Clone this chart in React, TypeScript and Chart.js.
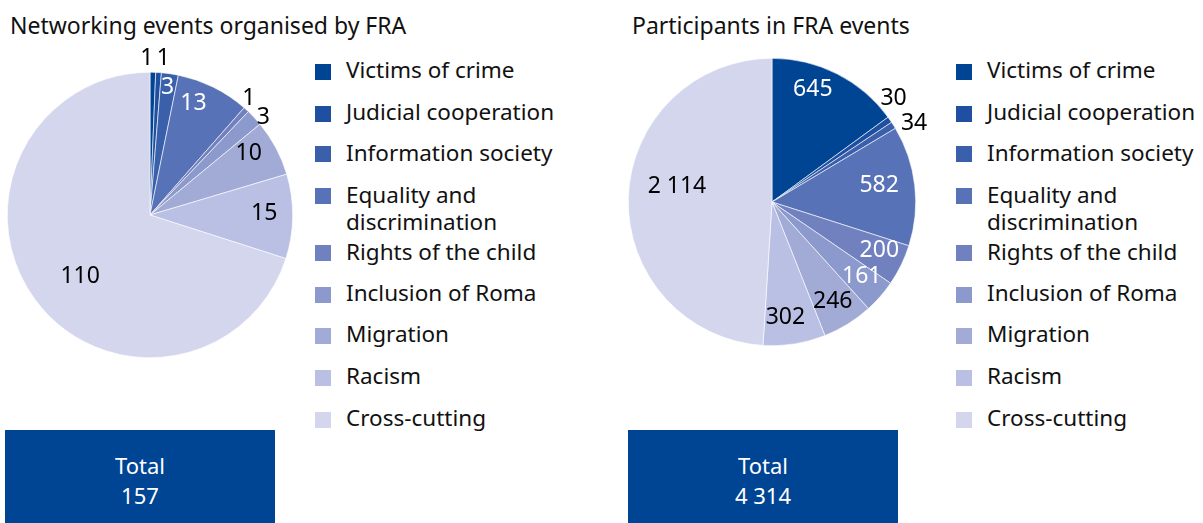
import React, { useEffect, useRef } from 'react';
import { Chart, registerables } from 'chart.js';

Chart.register(...registerables);

// ---------- data ----------
const categories = [
  'Victims of crime',
  'Judicial cooperation',
  'Information society',
  'Equality and discrimination',
  'Rights of the child',
  'Inclusion of Roma',
  'Migration',
  'Racism',
  'Cross-cutting',
];
const eventsValues = [1, 1, 3, 13, 1, 3, 10, 15, 110];
const participantsValues = [645, 30, 34, 582, 200, 161, 246, 302, 2114];
const eventsTitle = 'Networking events organised by FRA';
const participantsTitle = 'Participants in FRA events';
const totalLabel = 'Total';

// ---------- styles ----------
const sliceColors = [
  '#004494',
  '#1f4fa0',
  '#3a60ab',
  '#5872b7',
  '#7180bf',
  '#8c99cc',
  '#a1abd6',
  '#b9c0e3',
  '#d3d6ed',
];
const FONT = '"Noto Sans", "DejaVu Sans", sans-serif';

// label placement: radius factor, angle offset (deg) from slice middle, colour
const eventsLabelCfg = [
  { rf: 1.096, da: -2.35, c: '#000' },
  { rf: 1.1, da: 1.4, c: '#000' },
  { rf: 0.9, da: -0.2, c: '#fff' },
  { rf: 0.84, da: -5.1, c: '#fff' },
  { rf: 1.07, da: -2.1, c: '#000' },
  { rf: 1.05, da: 2.2, c: '#000' },
  { rf: 0.815, da: -3.8, c: '#000' },
  { rf: 0.8, da: -1.1, c: '#000' },
  { rf: 0.65, da: -5, c: '#000' },
];
const participantsLabelCfg = [
  { rf: 0.83, da: -6.9, c: '#fff' },
  { rf: 1.113, da: -5.6, c: '#000' },
  { rf: 1.13, da: 3.3, c: '#000' },
  { rf: 0.755, da: -2.3, c: '#fff' },
  { rf: 0.82, da: -1.7, c: '#fff' },
  { rf: 0.81, da: -1.6, c: '#fff' },
  { rf: 0.81, da: 0.4, c: '#000' },
  { rf: 0.81, da: 2.4, c: '#000' },
  { rf: 0.67, da: 7.35, c: '#000' },
];

const legendRowY = [69.5, 111.5, 152, 194, 251, 292.5, 333.5, 375.5, 417.5];

const fmt = (n: number) => String(n).replace(/\B(?=(\d{3})+(?!\d))/g, ' ');

const sliceLabelPlugin = {
  id: 'sliceLabels',
  afterDatasetsDraw(chart: any, _args: any, opts: any) {
    const ctx = chart.ctx;
    const meta = chart.getDatasetMeta(0);
    const data = chart.data.datasets[0].data as number[];
    ctx.save();
    ctx.font = `23px ${FONT}`;
    ctx.textAlign = 'center';
    ctx.textBaseline = 'middle';
    meta.data.forEach((arc: any, i: number) => {
      const p = arc.getProps(['x', 'y', 'startAngle', 'endAngle', 'outerRadius'], true);
      const cfg = opts.labels[i];
      const a = (p.startAngle + p.endAngle) / 2 + (cfg.da * Math.PI) / 180;
      const r = p.outerRadius * cfg.rf;
      ctx.fillStyle = cfg.c;
      ctx.fillText(fmt(data[i]), p.x + Math.cos(a) * r, p.y + Math.sin(a) * r);
    });
    ctx.restore();
  },
};

function PieCanvas(props: {
  values: number[];
  labelCfg: any[];
  left: number;
  top: number;
  width: number;
  height: number;
  padX: number;
  padY: number;
}) {
  const ref = useRef<HTMLCanvasElement | null>(null);
  useEffect(() => {
    if (!ref.current) return;
    const chart = new Chart(ref.current, {
      type: 'pie',
      data: {
        labels: categories,
        datasets: [
          {
            data: props.values,
            backgroundColor: sliceColors,
            borderColor: '#ffffff',
            borderWidth: 0.6,
          },
        ],
      },
      options: {
        responsive: false,
        animation: false,
        layout: {
          padding: { left: props.padX, right: props.padX, top: props.padY, bottom: props.padY },
        },
        plugins: {
          legend: { display: false },
          tooltip: { enabled: false },
          sliceLabels: { labels: props.labelCfg },
        } as any,
      },
      plugins: [sliceLabelPlugin],
    });
    return () => chart.destroy();
  }, []);
  return (
    <canvas
      ref={ref}
      width={props.width}
      height={props.height}
      style={{ position: 'absolute', left: props.left, top: props.top, width: props.width, height: props.height }}
    />
  );
}

function Legend(props: { left: number }) {
  return (
    <>
      {categories.map((c, i) => (
        <div
          key={c}
          style={{
            position: 'absolute',
            left: props.left,
            top: legendRowY[i] - 13.5,
            display: 'flex',
            alignItems: 'flex-start',
            fontFamily: FONT,
            fontSize: 22.5,
            lineHeight: '27px',
            color: '#111',
            whiteSpace: 'pre',
          }}
        >
          <div style={{ width: 16, height: 16, marginTop: 7.5, background: sliceColors[i], marginRight: 15 }} />
          <div>{c.replace('and ', 'and\n')}</div>
        </div>
      ))}
    </>
  );
}

function TotalBox(props: { left: number; value: number }) {
  return (
    <div
      style={{
        position: 'absolute',
        left: props.left,
        top: 430,
        width: 270,
        height: 93,
        boxSizing: 'border-box',
        paddingTop: 6,
        background: '#004494',
        color: '#fff',
        fontFamily: FONT,
        fontSize: 22,
        lineHeight: '30px',
        display: 'flex',
        flexDirection: 'column',
        alignItems: 'center',
        justifyContent: 'center',
      }}
    >
      <div>{totalLabel}</div>
      <div>{fmt(props.value)}</div>
    </div>
  );
}

export default function App() {
  const sum = (a: number[]) => a.reduce((s, v) => s + v, 0);
  const titleStyle: React.CSSProperties = {
    position: 'absolute',
    top: 10,
    fontFamily: FONT,
    fontSize: 23,
    lineHeight: '30px',
    color: '#111',
    whiteSpace: 'nowrap',
  };
  return (
    <div style={{ position: 'absolute', left: 0, top: 0, width: 1203, height: 523, overflow: 'hidden', background: '#fff' }}>
      <div style={{ ...titleStyle, left: 10 }}>{eventsTitle}</div>
      <div style={{ ...titleStyle, left: 632 }}>{participantsTitle}</div>
      <PieCanvas values={eventsValues} labelCfg={eventsLabelCfg} left={0} top={45} width={300} height={340} padX={7} padY={27} />
      <PieCanvas values={participantsValues} labelCfg={participantsLabelCfg} left={602} top={32} width={340} height={340} padX={26} padY={26} />
      <Legend left={315} />
      <Legend left={956} />
      <TotalBox left={5} value={sum(eventsValues)} />
      <TotalBox left={628} value={sum(participantsValues)} />
    </div>
  );
}
